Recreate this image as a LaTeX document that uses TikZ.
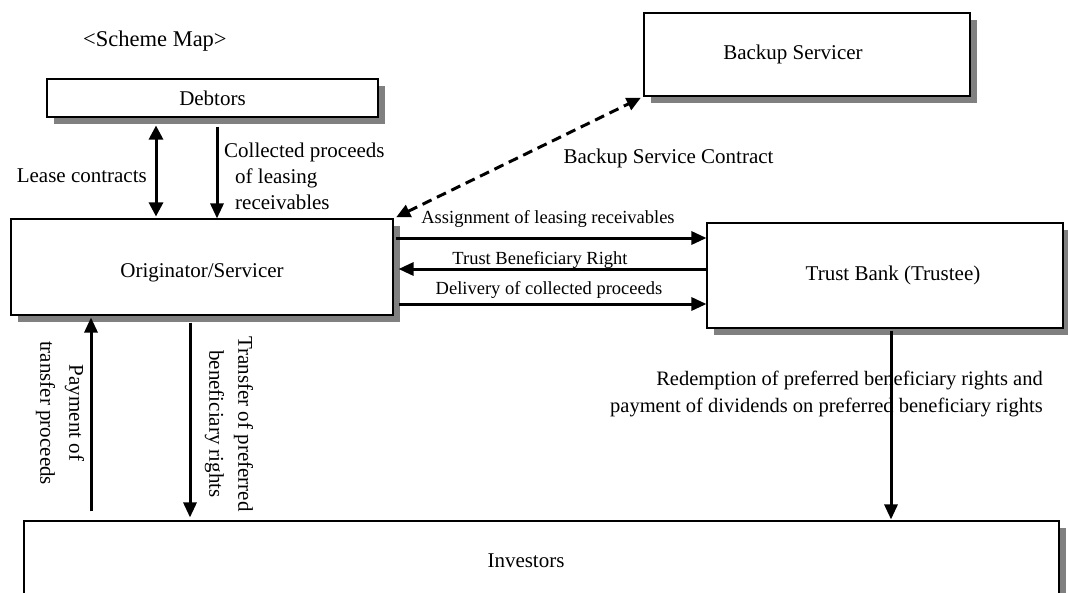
\documentclass[tikz,border=0pt]{standalone}
\usepackage{fontspec}
\setmainfont{Liberation Serif}
\usetikzlibrary{arrows.meta,shadows}
\begin{document}
\begin{tikzpicture}[x=1pt,y=-1pt,
  box/.style={draw=black, line width=1.1pt, fill=white, inner sep=0pt,
    drop shadow={shadow xshift=6.5pt, shadow yshift=-6.5pt, fill=black!50, opacity=1},
    font=\fontsize{21}{25}\selectfont},
  arr/.style={line width=3pt, -{Triangle[length=15pt,width=13pt]}},
  darr/.style={line width=3pt, {Triangle[length=14pt,width=14pt]}-{Triangle[length=14pt,width=14pt]}},
  dasharr/.style={line width=3pt, dash pattern=on 10pt off 6pt,
    {Triangle[length=14pt,width=13pt]}-{Triangle[length=14pt,width=13pt]}},
  lbl/.style={inner sep=0pt, font=\fontsize{21}{26}\selectfont},
  vlbl/.style={inner sep=0pt, font=\fontsize{21}{29}\selectfont, rotate=-90, align=center},
  slbl/.style={inner sep=0pt, font=\fontsize{18.5}{22}\selectfont},
]
\useasboundingbox (0,0) rectangle (1068,592);

% boxes
\node[box, minimum width=331pt, minimum height=38pt] (debt) at (212.5,98) {Debtors};
\node[box, minimum width=382pt, minimum height=96pt] (orig) at (202,267)
  {\raisebox{-6pt}[\height][\depth]{Originator/Servicer}};
\node[box, minimum width=326pt, minimum height=83pt] (backup) at (807,54.5)
  {Backup Servicer\hspace*{28pt}};
\node[box, minimum width=356pt, minimum height=105pt] (trust) at (885,275.5)
  {\hspace*{16pt}Trust Bank (Trustee)};
\begin{scope}
  \clip (0,0) rectangle (1068,592);
  \node[box, minimum width=1035pt, minimum height=80pt] (inv) at (541.5,561)
    {Investors\hspace*{31pt}};
\end{scope}

% labels
\node[lbl, font=\fontsize{22.5}{27}\selectfont, anchor=west] (title) at (83,41) {<Scheme Map>};
\node[lbl, anchor=east] (llease) at (147,176) {Lease contracts};
\node[lbl, anchor=west, align=left] (lcoll) at (224,176)
  {Collected proceeds\\\hspace*{11pt}of leasing\\\hspace*{11pt}receivables};
\node[lbl] (lbsc) at (668.5,158) {Backup Service Contract};
\node[slbl] (lassign) at (548,219) {Assignment of leasing receivables};
\node[slbl] (ltbr) at (540,260) {Trust Beneficiary Right};
\node[slbl] (ldeliv) at (549,290) {Delivery of collected proceeds};
\node[lbl, align=right, anchor=east, font=\fontsize{20.5}{27}\selectfont] (lredeem) at (1043,393.5)
  {Redemption of preferred beneficiary rights and\\payment of dividends on preferred beneficiary rights};
\node[vlbl] (lpay) at (60,413) {Payment of\\transfer proceeds};
\node[vlbl] (ltrans) at (229,424) {Transfer of preferred\\beneficiary rights};

% connectors
\draw[darr, shorten <=8pt, shorten >=2pt] (debt.south -| 156,0) -- (orig.north -| 156,0);
\draw[arr, shorten <=9pt] (debt.south -| 217,0) -- (orig.north -| 217,0);
\draw[dasharr, shorten <=3pt, shorten >=3pt] (orig.north east) -- (backup.south west);
\draw[arr, shorten <=2pt] (orig.east |- 0,238) -- (trust.west |- 0,238);
\draw[arr, shorten >=5pt] (trust.west |- 0,269) -- (orig.east |- 0,269);
\draw[arr, shorten <=5pt] (orig.east |- 0,304) -- (trust.west |- 0,304);
\draw[arr, shorten <=9pt, shorten >=2pt] (inv.north -| 91,0) -- (orig.south -| 91,0);
\draw[arr, shorten <=7pt, shorten >=3pt] (orig.south -| 190,0) -- (inv.north -| 190,0);
\draw[arr, shorten <=2pt, shorten >=1pt] (trust.south -| 891,0) -- (inv.north -| 891,0);
\end{tikzpicture}
\end{document}
